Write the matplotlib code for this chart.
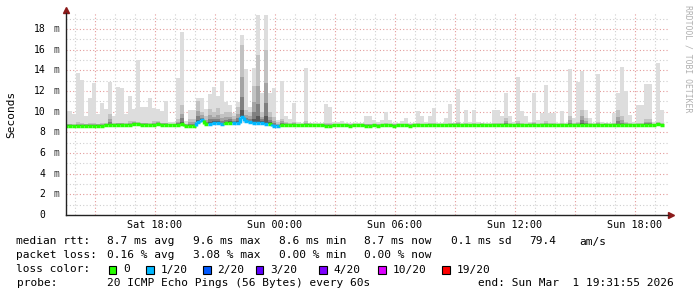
import numpy as np
import matplotlib.pyplot as plt
from matplotlib.ticker import MultipleLocator, FuncFormatter
from matplotlib.patches import Rectangle
from matplotlib.collections import LineCollection

plt.rcParams['font.family'] = ['DejaVu Sans Mono']

# one bin = 12 minutes, hours counted from Sat 00:00
first_bin_h = 13.45
bin_h = 0.2

# median rtt per bin (ms)
median_ms = [
    8.65, 8.65, 8.6, 8.65, 8.65, 8.65, 8.65, 8.6, 8.65, 8.65,
    8.7, 8.75, 8.75, 8.75, 8.75, 8.7, 8.75, 8.8, 8.8, 8.75,
    8.75, 8.7, 8.75, 8.8, 8.75, 8.75, 8.7, 8.7, 8.7, 8.85,
    8.65, 8.65, 8.65, 9.0, 9.2, 8.8, 8.85, 8.95, 8.9, 8.85,
    8.9, 8.95, 8.9, 8.9, 9.5, 9.1, 9.0, 8.95, 8.9, 8.95,
    8.85, 8.85, 8.65, 8.65, 8.75, 8.75, 8.7, 8.75, 8.7, 8.7,
    8.7, 8.75, 8.7, 8.7, 8.7, 8.65, 8.65, 8.7, 8.7, 8.7,
    8.7, 8.65, 8.7, 8.7, 8.7, 8.65, 8.65, 8.7, 8.65, 8.7,
    8.7, 8.7, 8.65, 8.7, 8.7, 8.7, 8.65, 8.7, 8.7, 8.7,
    8.7, 8.75, 8.7, 8.7, 8.7, 8.7, 8.7, 8.75, 8.7, 8.7,
    8.7, 8.7, 8.7, 8.7, 8.75, 8.7, 8.7, 8.7, 8.7, 8.75,
    8.7, 8.7, 8.7, 8.7, 8.7, 8.7, 8.75, 8.7, 8.7, 8.7,
    8.7, 8.7, 8.75, 8.7, 8.7, 8.7, 8.7, 8.7, 8.7, 8.75,
    8.7, 8.7, 8.7, 8.7, 8.7, 8.75, 8.7, 8.7, 8.7, 8.7,
    8.7, 8.7, 8.7, 8.7, 8.7, 8.7, 8.7, 8.7, 8.8, 8.75,
]

# slowest ping per bin (top of the smoke)
ping_max_ms = [
    10.1, 10.1, 9.8, 13.7, 13.1, 9.6, 11.3, 12.8, 9.8, 10.8,
    10.3, 12.9, 9.6, 12.4, 12.3, 9.8, 11.5, 10.3, 15.0, 10.5,
    10.5, 11.3, 10.4, 10.3, 10.1, 11.0, 9.0, 9.0, 13.3, 17.7,
    9.1, 10.2, 10.2, 11.3, 11.3, 10.3, 11.7, 12.4, 11.5, 13.0,
    10.9, 10.6, 9.9, 10.9, 17.4, 14.1, 10.5, 14.2, 19.4, 11.8,
    19.4, 11.8, 12.3, 9.2, 13.0, 9.6, 9.3, 10.8, 9.0, 8.9,
    14.2, 8.9, 8.9, 8.9, 8.9, 10.7, 10.5, 9.0, 9.0, 9.1,
    8.9, 8.9, 8.9, 8.9, 8.9, 9.6, 9.6, 9.2, 9.0, 9.2,
    10.0, 9.2, 8.9, 8.9, 9.1, 9.4, 8.9, 8.9, 10.1, 9.6,
    9.0, 9.6, 10.4, 8.9, 8.9, 9.4, 10.7, 8.9, 12.2, 8.9,
    10.2, 9.0, 10.2, 9.0, 8.9, 8.9, 8.9, 10.2, 10.2, 9.6,
    11.8, 9.6, 9.0, 13.4, 10.1, 9.6, 9.0, 11.8, 9.2, 9.9,
    12.6, 9.9, 9.9, 8.9, 10.1, 8.9, 14.1, 9.4, 12.9, 13.9,
    10.2, 9.4, 8.9, 13.6, 9.0, 8.9, 8.9, 9.9, 11.8, 14.3,
    12.0, 9.7, 9.0, 10.6, 10.6, 12.7, 12.7, 9.0, 14.7, 10.2,
]

# upper quartile of the pings per bin (dense smoke)
ping_q3_ms = [
    8.85, 8.85, 8.85, 9.0, 8.9, 8.85, 8.9, 8.95, 8.85, 8.9,
    8.95, 9.8, 8.9, 8.95, 8.95, 8.9, 9.1, 9.1, 9.0, 8.95,
    8.95, 8.9, 9.1, 9.1, 8.95, 8.95, 8.85, 8.85, 9.3, 10.6,
    8.85, 9.3, 9.3, 11.0, 10.0, 9.6, 10.3, 10.0, 10.4, 9.8,
    10.0, 10.0, 9.6, 10.5, 16.5, 10.2, 10.0, 12.5, 15.5, 10.0,
    16.0, 10.0, 9.5, 9.0, 9.3, 9.0, 8.9, 9.0, 8.85, 8.85,
    9.1, 8.9, 8.85, 8.85, 8.85, 8.9, 8.9, 8.85, 8.85, 8.85,
    8.85, 8.85, 8.85, 8.85, 8.85, 8.85, 8.85, 8.85, 8.85, 8.85,
    8.9, 8.85, 8.85, 8.85, 8.85, 8.85, 8.85, 8.85, 8.9, 8.85,
    8.85, 8.9, 8.9, 8.85, 8.85, 8.85, 8.9, 8.9, 9.0, 8.85,
    8.9, 8.85, 8.9, 8.85, 8.9, 8.85, 8.85, 8.9, 8.9, 8.9,
    9.4, 8.9, 8.85, 9.1, 8.9, 8.85, 8.9, 9.0, 8.85, 8.9,
    9.1, 8.9, 8.9, 8.85, 8.9, 8.85, 9.6, 8.9, 9.0, 10.2,
    9.4, 8.9, 8.85, 9.0, 8.85, 8.9, 8.85, 8.9, 10.2, 9.6,
    9.0, 8.9, 8.85, 8.9, 8.9, 9.3, 9.3, 8.85, 9.0, 8.9,
]

# lost pings out of 20 per bin
loss = [0] * 33 + [1, 1, 0, 1, 1, 1, 1, 0, 0, 1, 1, 1, 1, 1, 1, 1, 1, 1, 0, 1, 1] + [0] * 96

loss_levels = ['0', '1/20', '2/20', '3/20', '4/20', '10/20', '19/20']
loss_level_colors = ['#26ff00', '#00b8ff', '#0059ff', '#5e00ff', '#7e00ff', '#dd00ff', '#ff0000']

rtt_stats = ['8.7 ms avg', '9.6 ms max', '8.6 ms min', '8.7 ms now', '0.1 ms sd', '79.4', 'am/s']
loss_stats = ['0.16 % avg', '3.08 % max', '0.00 % min', '0.00 % now']
probe_text = '20 ICMP Echo Pings (56 Bytes) every 60s'
end_text = 'end: Sun Mar  1 19:31:55 2026'

W, H = 697, 297
fig = plt.figure(figsize=(W / 100, H / 100), dpi=100)
ax = fig.add_axes([66 / W, (H - 215) / H, 602 / W, 202 / H])

med = np.array(median_ms)
pmax = np.array(ping_max_ms)
q3 = np.array(ping_q3_ms)
t = first_bin_h + bin_h * np.arange(len(med))

# smoke: light for the whole spread, darker towards the median
ax.bar(t, pmax - med, bottom=med, width=bin_h, align='edge', color='#dddddd', lw=0, zorder=2)
for frac, col in [(1.0, '#c2c2c2'), (0.55, '#a4a4a4'), (0.28, '#808080'), (0.1, '#585858')]:
    ax.bar(t, (q3 - med) * frac, bottom=med, width=bin_h, align='edge', color=col, lw=0, zorder=3)

# median line coloured by loss
segs, cols = [], []
for k in range(len(med)):
    c = loss_level_colors[loss[k]]
    segs.append([(t[k], med[k]), (t[k] + bin_h, med[k])])
    cols.append(c)
    if k > 0 and med[k] != med[k - 1]:
        segs.append([(t[k], med[k - 1]), (t[k], med[k])])
        cols.append(c)
ax.add_collection(LineCollection(segs, colors=cols, linewidths=2.5, zorder=5, capstyle='butt'))

ax.set_xlim(13.55, 43.65)
ax.set_ylim(0, 19.55)

ax.xaxis.set_major_locator(MultipleLocator(3))
ax.xaxis.set_minor_locator(MultipleLocator(1))
ax.yaxis.set_major_locator(MultipleLocator(2))
ax.yaxis.set_minor_locator(MultipleLocator(1))
ax.set_axisbelow(True)
ax.grid(which='minor', color='#cfcfcf', ls=(0, (1, 2)), lw=0.8)
ax.grid(which='major', color='#e39a9a', ls=(0, (1, 2)), lw=0.8)


def hour_label(h, pos):
    if round(h) % 6:
        return ''
    day = 'Sat' if h < 24 else 'Sun'
    return f'{day} {int(round(h)) % 24:02d}:00'


ax.xaxis.set_major_formatter(FuncFormatter(hour_label))
ax.tick_params(axis='x', which='both', length=0, pad=3.5, labelsize=7.3)
ax.tick_params(axis='y', which='both', length=0, labelleft=False)

ytr = ax.get_yaxis_transform()
for v in range(0, 19, 2):
    ax.text(-20.5 / 602, v, str(v), transform=ytr, ha='right', va='center', fontsize=7)
    if v:
        ax.text(-12 / 602, v, 'm', transform=ytr, ha='left', va='center', fontsize=7, color='#333333')

for s in ['top', 'right']:
    ax.spines[s].set_visible(False)
for s in ['left', 'bottom']:
    ax.spines[s].set_color('#222222')
    ax.spines[s].set_linewidth(1.0)
    ax.spines[s].set_zorder(6)
ax.plot([0], [1 + 3 / 202], marker='^', ms=4.5, color='#8b1a1a', transform=ax.transAxes, clip_on=False)
ax.plot([1 + 3 / 602], [0], marker='>', ms=4.5, color='#8b1a1a', transform=ax.transAxes, clip_on=False)

fig.text(11 / W, 1 - 114 / H, 'Seconds', rotation=90, ha='center', va='center', fontsize=8)
fig.text(688 / W, 1 - 5 / H, 'RRDTOOL / TOBI OETIKER', rotation=-90, ha='center', va='top',
         fontsize=5.9, color='#b0b0b0')


def row(x, y, s):
    fig.text(x / W, 1 - y / H, s, ha='left', va='center', fontsize=8)


row(16.5, 241.5, 'median rtt:')
for x, s in zip([107, 193, 279, 364.5, 451, 529, 579], rtt_stats):
    row(x, 241.5, s)
row(16.5, 255.5, 'packet loss:')
for x, s in zip([107, 193, 279, 364.5], loss_stats):
    row(x, 255.5, s)
row(16.5, 269.5, 'loss color:')
box_x = [108.5, 146, 203, 255.5, 319, 378, 442]
for x, lab, c in zip(box_x, loss_levels, loss_level_colors):
    fig.patches.append(Rectangle((x / W, 1 - 273.5 / H), 7.5 / W, 8 / H, transform=fig.transFigure,
                                 facecolor=c, edgecolor='black', lw=0.8))
    row(x + 14.5, 269.5, lab)
row(16.5, 283, 'probe:')
row(107, 283, probe_text)
row(478, 283, end_text)

fig.savefig('out.png', dpi=100)
